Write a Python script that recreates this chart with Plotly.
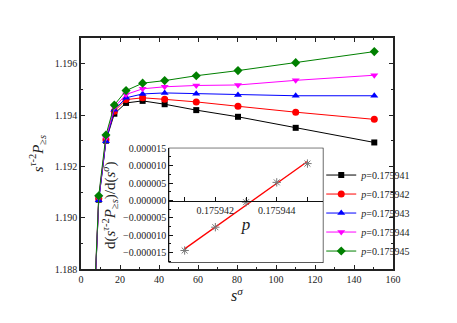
import numpy as np
import plotly.graph_objects as go

# ---- main panel data ----
s_sigma = [6.7, 9.1, 12.8, 17.1, 23.1, 31.6, 42.9, 59.1, 80.5, 110.1, 150.4]
p_labels = ["0.175941", "0.175942", "0.175943", "0.175944", "0.175945"]
y_p41 = [1.1863, 1.19070, 1.19300, 1.19405, 1.19447, 1.19455, 1.19442, 1.19419, 1.19393, 1.19350, 1.19293]
y_p42 = [1.1864, 1.19075, 1.19304, 1.19415, 1.19460, 1.19467, 1.19461, 1.19451, 1.19434, 1.19411, 1.19383]
y_p43 = [1.1864, 1.19068, 1.19298, 1.19420, 1.19467, 1.19482, 1.19486, 1.19483, 1.19478, 1.19475, 1.19475]
y_p44 = [1.1865, 1.19078, 1.19310, 1.19430, 1.19480, 1.19502, 1.19510, 1.19515, 1.19517, 1.19535, 1.19555]
y_p45 = [1.1866, 1.19085, 1.19322, 1.19439, 1.19495, 1.19524, 1.19534, 1.19553, 1.19573, 1.19604, 1.19647]

# ---- inset data ----
p_vals = [0.175941, 0.175942, 0.175943, 0.175944, 0.175945]
deriv = [-0.0000144, -0.0000077, -0.0000005, 0.0000052, 0.0000106]

series = [y_p41, y_p42, y_p43, y_p44, y_p45]
colors = ["#000000", "#ff0000", "#0000ff", "#ff00ff", "#008000"]
symbols = ["square", "circle", "triangle-up", "triangle-down", "diamond"]
sizes = [6, 7, 7, 7, 7]

FONT = "Liberation Serif"
fig = go.Figure()

for ys, lab, c, sym, sz in zip(series, p_labels, colors, symbols, sizes):
    fig.add_trace(go.Scatter(
        x=s_sigma, y=ys, mode="lines+markers",
        name="<i>p</i>=" + lab,
        line=dict(color=c, width=1),
        marker=dict(symbol=sym, size=sz, color=c),
        xaxis="x", yaxis="y",
    ))

# inset: data points + linear fit
coef = np.polyfit(np.array(p_vals) - p_vals[0], deriv, 1)
fit_x = [p_vals[0], p_vals[-1]]
fit_y = list(np.polyval(coef, np.array(fit_x) - p_vals[0]))
fig.add_trace(go.Scatter(
    x=fit_x, y=fit_y, mode="lines", line=dict(color="#ff0000", width=1.3),
    xaxis="x2", yaxis="y2", showlegend=False,
))
fig.add_trace(go.Scatter(
    x=p_vals, y=deriv, mode="markers",
    marker=dict(symbol="asterisk-open", size=7, color="#777777",
                line=dict(color="#777777", width=1)),
    xaxis="x2", yaxis="y2", showlegend=False,
))

axis_line = dict(showline=True, linecolor="#222222", linewidth=1.5)

fig.update_layout(
    width=457, height=323,
    margin=dict(l=73, r=72, t=30, b=62, autoexpand=False),
    paper_bgcolor="white", plot_bgcolor="white",
    font=dict(family=FONT, size=10, color="#222222"),
    showlegend=True,
    legend=dict(x=0.77, y=0.015, xanchor="left", yanchor="bottom",
                bgcolor="rgba(0,0,0,0)", font=dict(size=10, family=FONT),
                itemwidth=30, tracegroupgap=0),
    xaxis=dict(
        domain=[0, 1], range=[0, 160], dtick=20, tick0=0, automargin=False,
        ticks="inside", ticklen=4, tickwidth=1, tickcolor="#222222",
        minor=dict(dtick=10, ticks="inside", ticklen=2, tickcolor="#222222"),
        mirror="allticks", showgrid=False, zeroline=False,
        title=dict(text="<i>s</i><sup><i>σ</i></sup>", font=dict(size=16, family=FONT), standoff=6),
        **axis_line,
    ),
    yaxis=dict(
        domain=[0, 1], range=[1.188, 1.197], dtick=0.002, tick0=1.188, automargin=False,
        tickformat=".3f",
        ticks="inside", ticklen=4, tickwidth=1, tickcolor="#222222",
        minor=dict(dtick=0.001, ticks="inside", ticklen=2, tickcolor="#222222"),
        mirror="allticks", showgrid=False, zeroline=False,
        title=dict(text="<i>s</i><sup><i>τ</i>-2</sup><i>P</i><sub>≥<i>s</i></sub>",
                   font=dict(size=15, family=FONT), standoff=8),
        **axis_line,
    ),
    xaxis2=dict(
        domain=[0.283, 0.775], range=[0.1759405, 0.1759455],
        anchor="free", position=0.2944, automargin=False,
        tick0=0.175942, dtick=0.000002, tickformat=".6f",
        ticks="inside", ticklen=4, tickwidth=1, tickcolor="#111111",
        minor=dict(dtick=0.000001, ticks="inside", ticklen=4, tickcolor="#111111"),
        showline=True, linecolor="#111111", linewidth=1.3,
        showgrid=False, zeroline=False,
        tickfont=dict(size=10, family=FONT),
        title=dict(text="<i>p</i>", font=dict(size=17, family=FONT), standoff=2),
    ),
    yaxis2=dict(
        domain=[0.029, 0.5225], range=[-0.0000178, 0.000015],
        anchor="x2", tick0=0, dtick=0.000005, tickformat=".6f", automargin=False,
        ticks="inside", ticklen=4, tickwidth=1, tickcolor="#111111",
        minor=dict(dtick=0.0000025, ticks="inside", ticklen=2, tickcolor="#111111"),
        showline=True, linecolor="#111111", linewidth=1.3,
        showgrid=False, zeroline=False,
        tickfont=dict(size=10, family=FONT),
        title=dict(text="d(<i>s</i><sup><i>τ</i>-2</sup><i>P</i><sub>≥<i>s</i></sub>)/d(<i>s</i><sup><i>σ</i></sup>)",
                   font=dict(size=15, family=FONT), standoff=3),
    ),
    shapes=[dict(type="rect", xref="x2 domain", yref="y2 domain",
                 x0=0, x1=1, y0=0, y1=1,
                 line=dict(color="#111111", width=1.3), fillcolor="white", layer="below")],
)

fig.write_html("out.html")
